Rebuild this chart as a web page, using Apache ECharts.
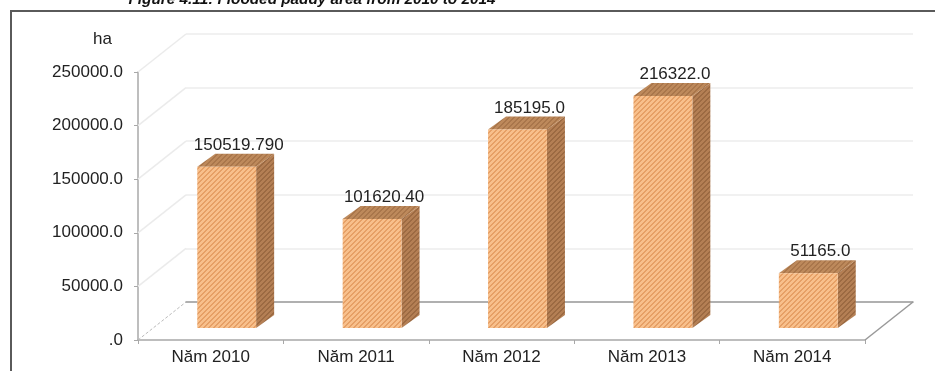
<!DOCTYPE html>
<html>
<head>
<meta charset="utf-8">
<script src="https://cdn.jsdelivr.net/npm/echarts@6/dist/echarts.min.js"></script>
<style>
html,body{margin:0;padding:0;background:#fff;}
#chart{width:935px;height:371px;}
</style>
</head>
<body>
<div id="chart"></div>
<script>
const titleText = 'Figure 4.11: Flooded paddy area from 2010 to 2014';
const unitLabel = 'ha';
const categories = ['Năm 2010', 'Năm 2011', 'Năm 2012', 'Năm 2013', 'Năm 2014'];
const values = [150519.79, 101620.40, 185195.0, 216322.0, 51165.0];
const valueLabels = ['150519.790', '101620.40', '185195.0', '216322.0', '51165.0'];
const yTicks = [0, 50000, 100000, 150000, 200000, 250000];

function hatch(base, stripe) {
  const n = 5;
  const c = document.createElement('canvas');
  c.width = n; c.height = n;
  const ctx = c.getContext('2d');
  ctx.fillStyle = base; ctx.fillRect(0, 0, n, n);
  ctx.fillStyle = stripe;
  for (let x = 0; x < n; x++) for (let y = 0; y < n; y++) {
    const k = (x + y) % n;
    if (k === 0 || k === 1) ctx.fillRect(x, y, 1, 1);
  }
  return c;
}
const frontPat = { image: hatch('#f8c08c', '#e6a066'), repeat: 'repeat' };
const sidePat = { image: hatch('#b47f54', '#9c6a42'), repeat: 'repeat' };
const topPat = { image: hatch('#bd895b', '#a9764b'), repeat: 'repeat' };

const DEPTH = [48, -38];
const BAR_OFF = [16, -12];
const BAR_D = [18, -13];
const FONT = 'Liberation Sans, Arial, sans-serif';

const chart = echarts.init(document.getElementById('chart'), null, { renderer: 'canvas' });

const option = {
  animation: false,
  backgroundColor: '#fff',
  graphic: [
    { type: 'rect', shape: { x: 11, y: 11, width: 950, height: 400 }, style: { fill: 'none', stroke: '#5a5a5a', lineWidth: 2 }, z: 0 },
    { type: 'text', x: 312, y: 0, style: { text: titleText, fontFamily: FONT, fontWeight: 'bold', fontStyle: 'italic', fontSize: 15.3, fill: '#111', align: 'center', verticalAlign: 'middle' } }
  ],
  grid: [
    { left: 138, right: 70, top: 72, bottom: 31 },
    { left: 186, right: 22, top: 34, bottom: 69 }
  ],
  xAxis: [
    { gridIndex: 0, type: 'category', data: categories, boundaryGap: true,
      axisLine: { lineStyle: { color: '#a8a8a8', width: 1.5 } },
      axisTick: { show: true, length: 4, lineStyle: { color: '#a8a8a8' } },
      axisLabel: { color: '#222', fontSize: 17, fontFamily: FONT, margin: 9 },
      splitLine: { show: false } },
    { gridIndex: 1, type: 'category', data: categories, boundaryGap: true,
      axisLine: { lineStyle: { color: '#9a9a9a', width: 1.5 } },
      axisTick: { show: false }, axisLabel: { show: false }, splitLine: { show: false } }
  ],
  yAxis: [
    { gridIndex: 0, type: 'value', min: 0, max: 250000, interval: 50000,
      name: unitLabel, nameLocation: 'end', nameGap: 24,
      nameTextStyle: { color: '#222', fontSize: 17, fontFamily: FONT, align: 'right', padding: [0, 26, 0, 0] },
      axisLine: { show: true, lineStyle: { color: '#a8a8a8', width: 1.5 } },
      axisTick: { show: true, length: 4, lineStyle: { color: '#a8a8a8' } },
      axisLabel: { color: '#222', fontSize: 17, fontFamily: FONT, margin: 15,
        formatter: v => v === 0 ? '.0' : v.toFixed(1) },
      splitLine: { show: false } },
    { gridIndex: 1, type: 'value', min: 0, max: 250000, interval: 50000,
      axisLine: { show: false }, axisTick: { show: false }, axisLabel: { show: false },
      splitLine: { show: true, lineStyle: { color: '#ececec', width: 1.5 } } }
  ],
  series: [
    {
      type: 'custom', xAxisIndex: 0, yAxisIndex: 0, z: 1,
      data: yTicks.map(v => [0, v]),
      renderItem: function (params, api) {
        const v = api.value(1);
        const band = api.size([1, 0])[0];
        const p = api.coord([0, v]);
        const x0 = p[0] - band / 2;
        const children = [{
          type: 'line',
          shape: { x1: x0, y1: p[1], x2: x0 + DEPTH[0], y2: p[1] + DEPTH[1] },
          style: v === 0 ? { stroke: '#bbbbbb', lineWidth: 1, lineDash: [3, 2] } : { stroke: '#ebebeb', lineWidth: 1.5 }
        }];
        if (v === 0) {
          const pr = api.coord([categories.length - 1, 0]);
          const xr = pr[0] + band / 2;
          children.push({
            type: 'line',
            shape: { x1: xr, y1: pr[1], x2: xr + DEPTH[0], y2: pr[1] + DEPTH[1] },
            style: { stroke: '#999', lineWidth: 1.5 }
          });
        }
        return { type: 'group', children: children };
      }
    },
    {
      type: 'custom', xAxisIndex: 0, yAxisIndex: 0, z: 5,
      data: values.map((v, i) => [i, v]),
      renderItem: function (params, api) {
        const i = api.value(0);
        const band = api.size([1, 0])[0];
        const w = band * 0.405;
        const c = api.coord([i, api.value(1)]);
        const z = api.coord([i, 0]);
        const x0 = c[0] + BAR_OFF[0] - w / 2;
        const top = c[1] + BAR_OFF[1];
        const bot = z[1] + BAR_OFF[1];
        const dx = BAR_D[0], dy = BAR_D[1];
        return {
          type: 'group',
          children: [
            { type: 'polygon', shape: { points: [[x0 + w, top], [x0 + w + dx, top + dy], [x0 + w + dx, bot + dy], [x0 + w, bot]] }, style: { fill: sidePat } },
            { type: 'polygon', shape: { points: [[x0, top], [x0 + dx, top + dy], [x0 + w + dx, top + dy], [x0 + w, top]] }, style: { fill: topPat } },
            { type: 'rect', shape: { x: x0, y: top, width: w, height: bot - top }, style: { fill: frontPat } },
            { type: 'text', x: x0 + w / 2 + 12, y: top + dy, style: { text: valueLabels[params.dataIndex], fontFamily: FONT, fontSize: 17, fill: '#222', align: 'center', verticalAlign: 'bottom' } }
          ]
        };
      }
    }
  ]
};
chart.setOption(option);
</script>
</body>
</html>
